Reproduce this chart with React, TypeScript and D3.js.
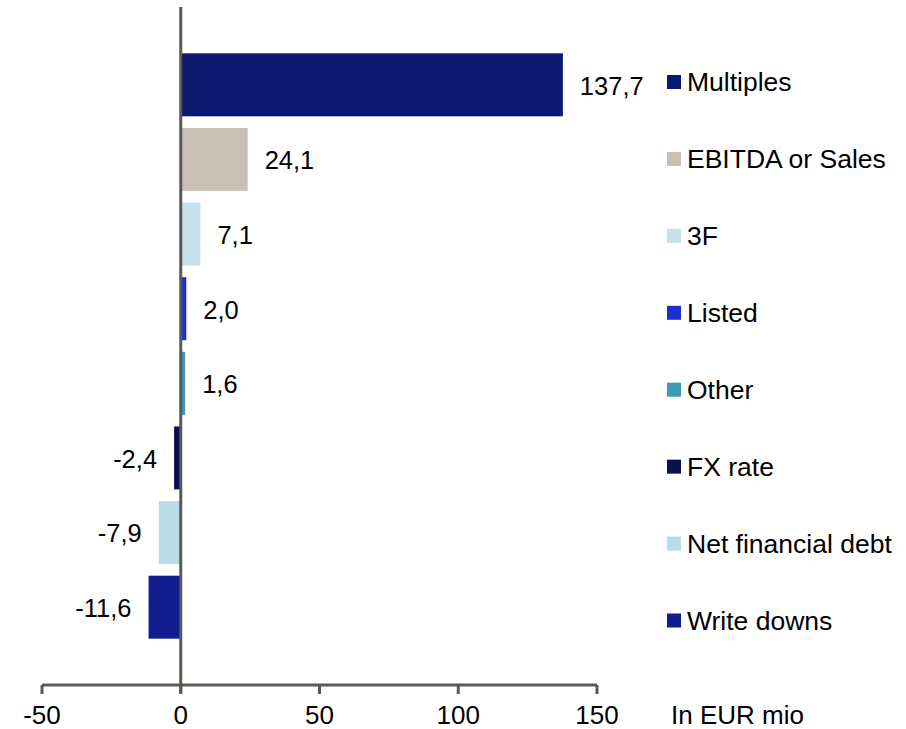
import React from "react";
import * as d3 from "d3";

const categories = ["Multiples", "EBITDA or Sales", "3F", "Listed", "Other", "FX rate", "Net financial debt", "Write downs"];
const values = [137.7, 24.1, 7.1, 2.0, 1.6, -2.4, -7.9, -11.6];
const colors = ["#0D1870", "#C9BFB5", "#C7E1EA", "#1C2FD0", "#3F9AB3", "#0B1150", "#B8DCE6", "#111C8E"];
const xTicks = [-50, 0, 50, 100, 150];
const axisUnit = "In EUR mio";

const W = 906;
const H = 729;
const FONT = "'Liberation Sans', Arial, sans-serif";
const AXIS_COLOR = "#5A5A52";

export default function App() {
  const x = d3.scaleLinear().domain([-50, 150]).range([42, 597]);
  const y = d3
    .scaleBand<string>()
    .domain(categories)
    .range([47.5, 644.5])
    .paddingInner(0.156)
    .paddingOuter(0.078);
  const legendY = d3.scalePoint<string>().domain(categories).range([82, 620.5]);
  const axisY = 685;
  const fmt = (v: number) => v.toFixed(1).replace(".", ",");

  return (
    <svg width={W} height={H} style={{ position: "absolute", left: 0, top: 0, background: "#fff" }}>
      {categories.map((c, i) => {
        const v = values[i];
        const x0 = x(Math.min(0, v));
        const x1 = x(Math.max(0, v));
        const yy = y(c)!;
        const bw = y.bandwidth();
        return (
          <g key={c}>
            <rect x={x0} y={yy} width={x1 - x0} height={bw} fill={colors[i]} />
            <text
              x={v >= 0 ? x1 + 17 : x0 - 17}
              y={yy + bw / 2 + 1}
              dy="0.35em"
              textAnchor={v >= 0 ? "start" : "end"}
              fontFamily={FONT}
              fontSize={25.5}
              fill="#000"
            >
              {fmt(v)}
            </text>
          </g>
        );
      })}
      {/* vertical zero line */}
      <line x1={x(0)} x2={x(0)} y1={7} y2={693} stroke={AXIS_COLOR} strokeWidth={3} />
      {/* x axis */}
      <line x1={x(-50)} x2={x(150)} y1={axisY} y2={axisY} stroke={AXIS_COLOR} strokeWidth={3} />
      {xTicks.map((t) => (
        <g key={t}>
          <line x1={x(t)} x2={x(t)} y1={axisY} y2={axisY + 9} stroke={AXIS_COLOR} strokeWidth={3} />
          <text x={x(t)} y={714.5} dy="0.35em" textAnchor="middle" fontFamily={FONT} fontSize={26} fill="#000">
            {t}
          </text>
        </g>
      ))}
      <text x={671} y={714.5} dy="0.35em" fontFamily={FONT} fontSize={26} fill="#000">
        {axisUnit}
      </text>
      {/* legend */}
      {categories.map((c, i) => (
        <g key={"lg" + c}>
          <rect x={667} y={legendY(c)! - 7} width={14} height={14} fill={colors[i]} />
          <text x={687} y={legendY(c)!} dy="0.35em" fontFamily={FONT} fontSize={26.5} fill="#000">
            {c}
          </text>
        </g>
      ))}
    </svg>
  );
}
